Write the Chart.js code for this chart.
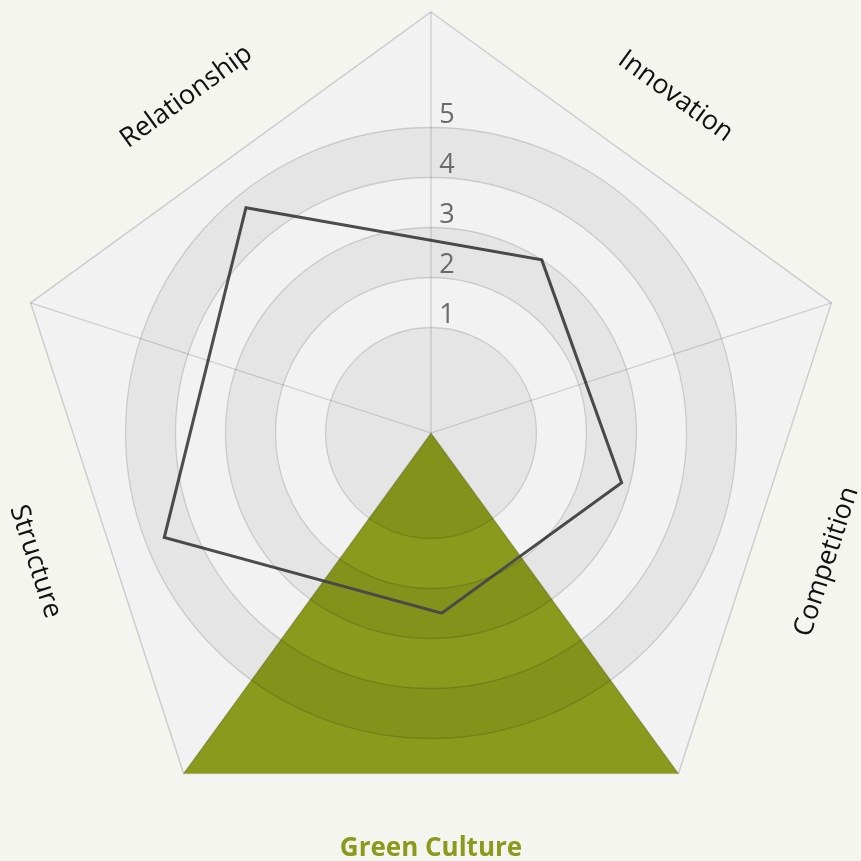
<!DOCTYPE html>
<html>
<head>
<meta charset="utf-8">
<title>Green Culture radar</title>
<script src="https://cdn.jsdelivr.net/npm/chart.js@4.4.1/dist/chart.umd.min.js"></script>
<style>
  html, body { margin: 0; padding: 0; background: #f4f5ee; }
  #chart { display: block; }
</style>
</head>
<body>
<canvas id="chart" width="861" height="861"></canvas>
<script>
// categories, clockwise from the top-right sector
const AXES = ['Innovation', 'Competition', 'Green Culture', 'Structure', 'Relationship'];
const SCORES = [3.0, 2.83, 2.5, 4.62, 4.72];
const HIGHLIGHT = 'Green Culture';

// radial scale: rings at 1..5, the inner disk reaches below zero
const R_MIN = -1.11;
const R_MAX = 7.31;
const TICK_VALUES = [1, 2, 3, 4, 5];
const SHADED_BANDS = [[R_MIN, 1], [2, 3], [4, 5]];

const GREEN = '#8a9a1c';

// the pentagon corners sit between the sectors, so every sector gets two slots:
// an empty one for the corner and a named one for the middle of the sector
const labels = AXES.flatMap(name => ['', name]);
const hi = labels.indexOf(HIGHLIGHT);

const scoreData = labels.map(l => (l ? SCORES[AXES.indexOf(l)] : null));
const frameData = labels.map(l => (l ? null : R_MAX));
const sectorData = labels.map((l, i) => {
  if (i === hi) return null;
  if (i === hi - 1 || i === hi + 1) return R_MAX;
  return R_MIN;
});

/**
 * Writes the ring numbers and the rotated sector names on top of the chart
 */
const textPlugin = {
  id: 'radarText',
  afterDraw (chart) {
    const scale = chart.scales.r;
    const ctx = chart.ctx;
    ctx.save();

    ctx.font = '27px "Open Sans"';
    ctx.fillStyle = '#6b6b6b';
    ctx.textAlign = 'center';
    ctx.textBaseline = 'alphabetic';
    TICK_VALUES.forEach(v => {
      const p = scale.getPointPositionForValue(0, v);
      ctx.fillText(String(v), p.x + 16, p.y - 5);
    });

    ctx.textBaseline = 'middle';
    chart.data.labels.forEach((label, i) => {
      if (!label) return;
      const p = scale.getPointPosition(i, scale.drawingArea - 5);
      // keep the text readable: turn it along the sector, never upside down
      let rot = p.angle + Math.PI / 2;
      rot = Math.atan2(Math.sin(rot), Math.cos(rot));
      if (rot > Math.PI / 2 + 0.01) rot -= Math.PI;
      if (rot < -Math.PI / 2 - 0.01) rot += Math.PI;
      ctx.save();
      ctx.translate(p.x, p.y);
      ctx.rotate(rot);
      if (label === HIGHLIGHT) {
        ctx.font = 'bold 26px "Open Sans"';
        ctx.fillStyle = GREEN;
      } else {
        ctx.font = '27px "Open Sans"';
        ctx.fillStyle = '#111111';
      }
      ctx.fillText(label, 0, 0);
      ctx.restore();
    });
    ctx.restore();
  }
};

const data = {
  labels,
  datasets: [
    {
      label: 'Score',
      data: scoreData,
      rAxisID: 'score',
      order: 0,
      spanGaps: true,
      fill: false,
      borderColor: '#4d4d4d',
      borderWidth: 3,
      borderJoinStyle: 'miter',
      pointRadius: 0
    },
    {
      label: HIGHLIGHT,
      data: sectorData,
      order: 1,
      spanGaps: true,
      fill: 'start',
      backgroundColor: GREEN,
      borderWidth: 0,
      pointRadius: 0
    },
    {
      label: 'frame',
      data: frameData,
      order: 2,
      spanGaps: true,
      fill: 'start',
      backgroundColor: '#f2f2f2',
      borderColor: '#cdcdcd',
      borderWidth: 1.5,
      pointRadius: 0
    }
  ]
};

const config = {
  type: 'radar',
  data,
  options: {
    responsive: false,
    animation: false,
    layout: { padding: { left: 10, right: 9, top: 12, bottom: 7 } },
    plugins: {
      legend: { display: false },
      tooltip: { enabled: false }
    },
    scales: {
      r: {
        min: R_MIN,
        max: R_MAX,
        startAngle: 0,
        afterBuildTicks: scale => {
          const bands = SHADED_BANDS.map(b => ({ value: (b[0] + b[1]) / 2, band: b }));
          const rings = TICK_VALUES.map(v => ({ value: v }));
          scale.ticks = bands.concat(rings);
        },
        ticks: { display: false },
        pointLabels: { display: false },
        grid: {
          circular: true,
          z: 1,
          color: c => (c.tick && c.tick.band ? 'rgba(0, 0, 0, 0.05)' : 'rgba(0, 0, 0, 0.14)'),
          lineWidth: c => {
            if (c.tick && c.tick.band) {
              const s = c.scale;
              return s.getDistanceFromCenterForValue(c.tick.band[1]) - s.getDistanceFromCenterForValue(c.tick.band[0]);
            }
            return 1.3;
          }
        },
        angleLines: {
          color: 'rgba(0, 0, 0, 0.15)',
          lineWidth: c => (c.index % 2 === 0 ? 1.3 : 0)
        }
      },
      // same rings, turned slightly, only carries the score line
      score: {
        type: 'radialLinear',
        axis: 'r',
        min: R_MIN,
        max: R_MAX,
        startAngle: -3.4,
        ticks: { display: false },
        pointLabels: { display: false },
        grid: { display: false },
        angleLines: { display: false }
      }
    }
  },
  plugins: [textPlugin]
};

window.onload = function () {
  const myChart = new Chart(document.getElementById('chart'), config);
  return myChart;
};
</script>
</body>
</html>
